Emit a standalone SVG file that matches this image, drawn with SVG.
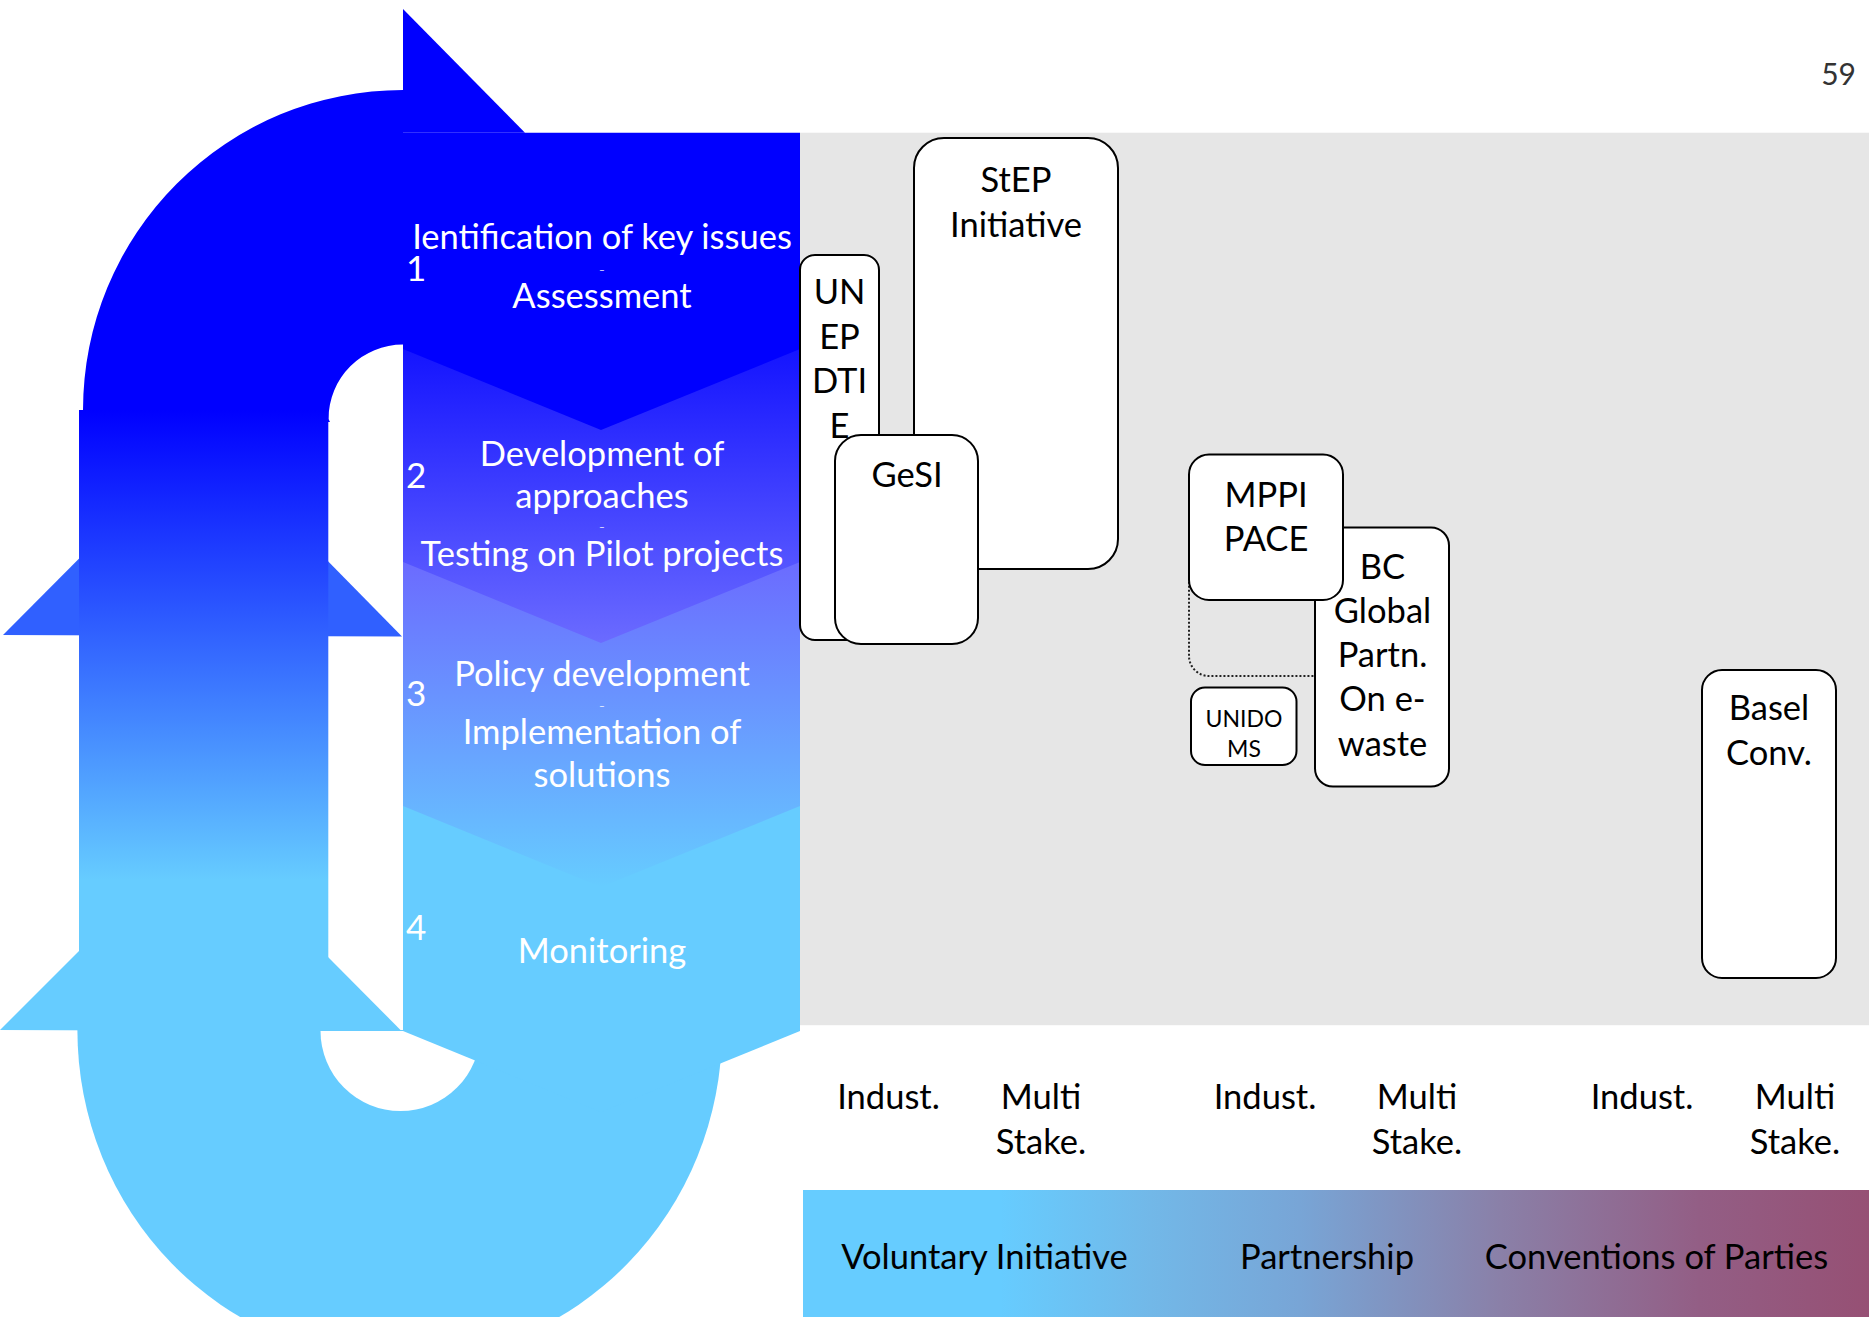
<svg xmlns="http://www.w3.org/2000/svg" width="1869" height="1317" viewBox="0 0 1869 1317">
<style>
  .w { fill: #ffffff; font-family: Lato, "Liberation Sans", sans-serif; font-size: 34.5px; text-anchor: middle; }
  .num { fill: #ffffff; font-family: Lato, "Liberation Sans", sans-serif; font-size: 35px; }
  .dash { fill: #ffffff; font-family: Lato, "Liberation Sans", sans-serif; font-size: 10px; text-anchor: middle; }
  .b { fill: #000000; font-family: Lato, "Liberation Sans", sans-serif; font-size: 34.5px; text-anchor: middle; }
  .bs { fill: #000000; font-family: Lato, "Liberation Sans", sans-serif; font-size: 23px; text-anchor: middle; }
  .node { fill: #ffffff; stroke: #000000; stroke-width: 2; }
</style>
<defs>
  <linearGradient id="gBand" gradientUnits="userSpaceOnUse" x1="0" y1="410" x2="0" y2="880">
    <stop offset="0" stop-color="#0000ff"/>
    <stop offset="1" stop-color="#66ccff"/>
  </linearGradient>
  <linearGradient id="gC2" gradientUnits="userSpaceOnUse" x1="0" y1="349" x2="0" y2="643">
    <stop offset="0" stop-color="#1414ff"/>
    <stop offset="1" stop-color="#6b6bff"/>
  </linearGradient>
  <linearGradient id="gC3" gradientUnits="userSpaceOnUse" x1="0" y1="562" x2="0" y2="887">
    <stop offset="0" stop-color="#6b6bff"/>
    <stop offset="1" stop-color="#66ccff"/>
  </linearGradient>
  <linearGradient id="gBar" gradientUnits="userSpaceOnUse" x1="803" y1="0" x2="1869" y2="0">
    <stop offset="0" stop-color="#66ccff"/>
    <stop offset="0.185" stop-color="#66ccff"/>
    <stop offset="0.326" stop-color="#72b8e8"/>
    <stop offset="0.466" stop-color="#78a5d6"/>
    <stop offset="0.654" stop-color="#8a80a8"/>
    <stop offset="0.841" stop-color="#935e85"/>
    <stop offset="1" stop-color="#965074"/>
  </linearGradient>
</defs>
<rect width="1869" height="1317" fill="#ffffff"/>

<!-- grey matrix panel -->
<rect id="panel" x="800" y="132.7" width="1069" height="892.5" fill="#e6e6e6"/>

<!-- circular arrow -->
<g id="cycle-arrow">
  <polygon points="403,9 525,132.7 403,132.7" fill="#0000ff"/>
  <path d="M403,90 A320,320 0 0 0 83,410 L83,422 L330,422 L328.5,419 A74.5,74.5 0 0 1 403,344.5 Z" fill="#0000ff"/>
  <polygon points="3,635 203,434 402,636.5" fill="#3060ff"/>
  <polygon points="0,1030 201,829 402,1031.5" fill="#66ccff"/>
  <rect x="79" y="410" width="249.3" height="620.5" fill="url(#gBand)"/>
  <path d="M77.4,1030 A322,330 0 0 0 722,1030 Z" fill="#66ccff"/>
  <path d="M320.5,1031 A80,80 0 0 0 480.5,1031 Z" fill="#ffffff"/>
</g>

<!-- chevron steps -->
<g id="step4">
  <polygon points="403,806 800,806 800,1031 601,1112 403,1031" fill="#66ccff"/>
  <text class="num" x="406" y="940">4</text>
  <text class="w" x="602" y="963">Monitoring</text>
</g>
<g id="step3">
  <polygon points="403,562 800,562 800,806 601,887 403,806" fill="url(#gC3)"/>
  <text class="num" x="406" y="706">3</text>
  <text class="w" x="602" y="686">Policy development</text>
  <text class="dash" x="602" y="709">–</text>
  <text class="w" x="602" y="744">Implementation of</text>
  <text class="w" x="602" y="787">solutions</text>
</g>
<g id="step2">
  <polygon points="403,349 800,349 800,562 601,643 403,562" fill="url(#gC2)"/>
  <text class="num" x="406" y="488">2</text>
  <text class="w" x="602" y="466">Development of</text>
  <text class="w" x="602" y="508">approaches</text>
  <text class="dash" x="602" y="529.5">–</text>
  <text class="w" x="602" y="566">Testing on Pilot projects</text>
</g>
<g id="step1">
  <polygon points="403,132.7 800,132.7 800,349 601,430 403,349" fill="#0000ff"/>
  <text class="num" x="406" y="281">1</text>
  <text class="w" x="602" y="249">Ientification of key issues</text>
  <text class="dash" x="602" y="273">–</text>
  <text class="w" x="602" y="308">Assessment</text>
</g>

<!-- initiative nodes -->
<g id="step-initiative">
  <rect class="node" x="914" y="138" width="204" height="431" rx="30" ry="30"/>
  <text class="b" x="1016" y="192">StEP</text>
  <text class="b" x="1016" y="237">Initiative</text>
</g>
<g id="unep-dtie">
  <rect class="node" x="800" y="255" width="79" height="385" rx="15" ry="15"/>
  <text class="b" x="839.5" y="304">UN</text>
  <text class="b" x="839.5" y="348.5">EP</text>
  <text class="b" x="839.5" y="392.5">DTI</text>
  <text class="b" x="839.5" y="438">E</text>
</g>
<g id="gesi">
  <rect class="node" x="835" y="435" width="143" height="209" rx="26" ry="26"/>
  <text class="b" x="907" y="487">GeSI</text>
</g>
<g id="mppi-pace-extent">
  <rect x="1189" y="470" width="150" height="206" rx="20" ry="20" fill="none" stroke="#222222" stroke-width="2" stroke-dasharray="2,2"/>
</g>
<g id="bc-global-partnership">
  <rect class="node" x="1315" y="527.5" width="134" height="259" rx="18" ry="18"/>
  <text class="b" x="1382.5" y="579">BC</text>
  <text class="b" x="1382.5" y="623">Global</text>
  <text class="b" x="1382.5" y="666.5">Partn.</text>
  <text class="b" x="1382.5" y="711">On e-</text>
  <text class="b" x="1382.5" y="755.5">waste</text>
</g>
<g id="mppi-pace">
  <rect class="node" x="1189" y="454.5" width="154" height="145.5" rx="20" ry="20"/>
  <text class="b" x="1266" y="506.5">MPPI</text>
  <text class="b" x="1266" y="550.5">PACE</text>
</g>
<g id="unido-ms">
  <rect class="node" x="1191" y="687.5" width="105.5" height="77.5" rx="14" ry="14"/>
  <text class="bs" x="1244" y="727">UNIDO</text>
  <text class="bs" x="1244" y="757">MS</text>
</g>
<g id="basel-conv">
  <rect class="node" x="1702" y="670" width="134" height="308" rx="20" ry="20"/>
  <text class="b" x="1769" y="720">Basel</text>
  <text class="b" x="1769" y="764.5">Conv.</text>
</g>

<g id="connectors"/>

<!-- axis labels -->
<g id="actor-labels">
  <text class="b" x="888.5" y="1109">Indust.</text>
  <text class="b" x="1041" y="1109">Multi</text>
  <text class="b" x="1041" y="1154">Stake.</text>
  <text class="b" x="1265" y="1109">Indust.</text>
  <text class="b" x="1417" y="1109">Multi</text>
  <text class="b" x="1417" y="1154">Stake.</text>
  <text class="b" x="1642" y="1109">Indust.</text>
  <text class="b" x="1795" y="1109">Multi</text>
  <text class="b" x="1795" y="1154">Stake.</text>
</g>
<g id="instrument-bar">
  <rect x="803" y="1190" width="1066" height="127" fill="url(#gBar)"/>
  <text class="b" x="984.5" y="1268.5">Voluntary Initiative</text>
  <text class="b" x="1327" y="1269">Partnership</text>
  <text class="b" x="1656.5" y="1268.5">Conventions of Parties</text>
</g>

<text x="1856" y="85" font-family="Lato, 'Liberation Sans', sans-serif" font-size="30" fill="#333333" text-anchor="end">59</text>
</svg>
